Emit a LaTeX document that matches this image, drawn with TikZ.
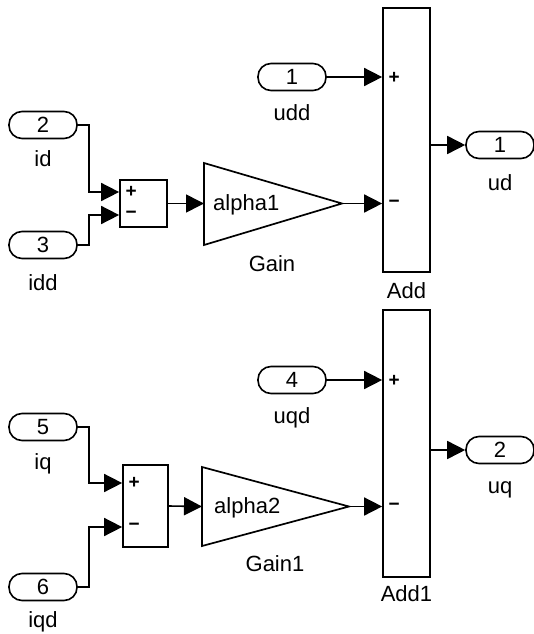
\documentclass[tikz,border=0pt]{standalone}
\usepackage{fontspec}
\setmainfont{Liberation Sans}
\usetikzlibrary{arrows.meta,calc}
\begin{document}
\begin{tikzpicture}[x=1pt,y=-1pt,
  txt/.style={font=\fontsize{22}{26}\selectfont, inner sep=0pt},
  lbl/.style={txt, anchor=base},
  port/.style={draw, line width=1.6pt, rounded corners=13pt, minimum width=68pt,
    minimum height=27pt, inner sep=0pt, txt},
  blk/.style={draw, line width=1.7pt, inner sep=0pt},
  sig/.style={line width=1.6pt, -{Triangle[length=18pt,width=18pt]}},
  sgn/.style={font=\fontsize{19}{20}\selectfont\bfseries, inner sep=0pt}
]
\useasboundingbox (0,0) rectangle (534,634);

% ---------------- d-axis ----------------
\node[port] (in1) at (292,77) {1};
\node[lbl] (in1l) at (292,120) {udd};
\node[port] (in2) at (43,125) {2};
\node[lbl] (in2l) at (43,166) {id};
\node[port] (in3) at (43,245) {3};
\node[lbl] (in3l) at (43,290) {idd};
\node[port] (out1) at (500,145) {1};
\node[lbl] (out1l) at (500,190) {ud};

\node[blk, minimum width=47pt, minimum height=47pt] (sum1) at (143.5,203.5) {};
\coordinate (sum1p) at ($(sum1.west)+(0,-11.5)$);
\coordinate (sum1m) at ($(sum1.west)+(0,11.5)$);
\node[sgn] (sum1ps) at ($(sum1p)+(12,0)$) {+};
\node[sgn] (sum1ms) at ($(sum1m)+(12,0)$) {−};

\draw[blk] (204,163) -- (342,203.5) -- (204,245) -- cycle;
\coordinate (g1in) at (204,203.5);
\coordinate (g1out) at (342,203.5);
\node[txt, anchor=base west] (g1k) at (213,210) {alpha1};
\node[lbl] (g1l) at (272,271) {Gain};

\node[blk, minimum width=47pt, minimum height=264pt] (add1) at (406.5,140) {};
\coordinate (add1p) at (add1.west |- in1.east);
\coordinate (add1m) at (add1.west |- g1out);
\node[sgn] (add1ps) at ($(add1p)+(12,1)$) {+};
\node[sgn] (add1ms) at ($(add1m)+(12,0)$) {−};
\node[lbl] (add1l) at (406.5,298) {Add};

\draw[sig] (in1.east) -- (add1p);
\draw[sig] (in2.east) -- ++(11,0) |- (sum1p);
\draw[sig] (in3.east) -- ++(11,0) |- (sum1m);
\draw[sig] (sum1.east) -- (g1in);
\draw[sig] (g1out) -- (add1m);
\draw[sig] (add1.east |- out1.west) -- (out1.west);

% ---------------- q-axis ----------------
\node[port] (in4) at (292,380) {4};
\node[lbl] (in4l) at (292,423) {uqd};
\node[port] (in5) at (43,427) {5};
\node[lbl] (in5l) at (43,469) {iq};
\node[port] (in6) at (43,587) {6};
\node[lbl] (in6l) at (43,627) {iqd};
\node[port] (out2) at (500,450) {2};
\node[lbl] (out2l) at (500,493) {uq};

\node[blk, minimum width=45pt, minimum height=82pt] (sum2) at (145.5,506) {};
\coordinate (sum2p) at ($(sum2.west)+(0,-23)$);
\coordinate (sum2m) at ($(sum2.west)+(0,21)$);
\node[sgn] (sum2ps) at ($(sum2p)+(12,0)$) {+};
\node[sgn] (sum2ms) at ($(sum2m)+(12,0)$) {−};

\draw[blk] (202,467) -- (349,506.5) -- (202,546) -- cycle;
\coordinate (g2in) at (202,506.5);
\coordinate (g2out) at (349,506.5);
\node[txt, anchor=base west] (g2k) at (214,513) {alpha2};
\node[lbl] (g2l) at (275,571) {Gain1};

\node[blk, minimum width=47pt, minimum height=267pt] (add2) at (406.5,443.5) {};
\coordinate (add2p) at (add2.west |- in4.east);
\coordinate (add2m) at (add2.west |- g2out);
\node[sgn] (add2ps) at ($(add2p)+(12,1)$) {+};
\node[sgn] (add2ms) at ($(add2m)+(12,0)$) {−};
\node[lbl] (add2l) at (406.5,601) {Add1};

\draw[sig] (in4.east) -- (add2p);
\draw[sig] (in5.east) -- ++(11,0) |- (sum2p);
\draw[sig] (in6.east) -- ++(11,0) |- (sum2m);
\draw[sig] (sum2.east) -- (g2in);
\draw[sig] (g2out) -- (add2m);
\draw[sig] (add2.east |- out2.west) -- (out2.west);
\end{tikzpicture}
\end{document}
